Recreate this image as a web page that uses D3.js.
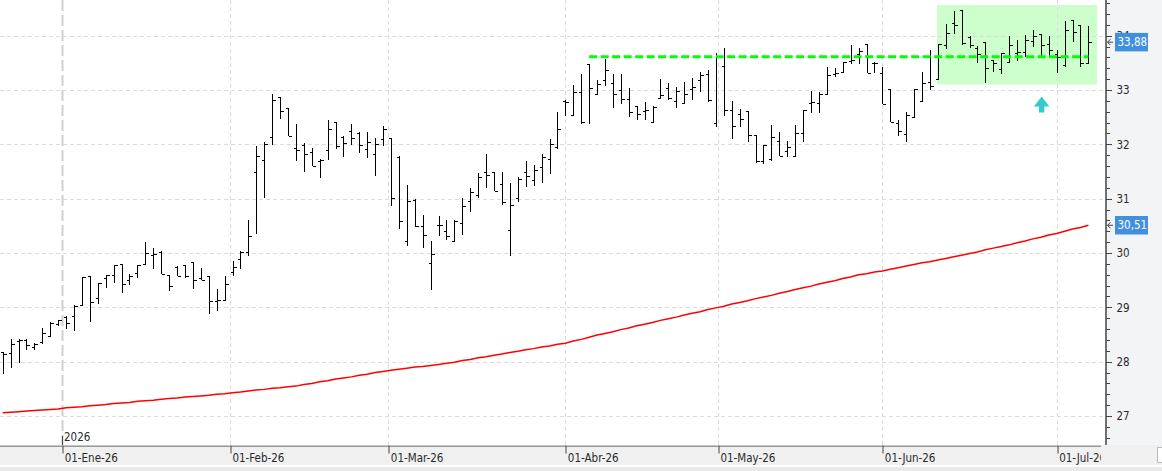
<!DOCTYPE html>
<html>
<head>
<meta charset="utf-8">
<script src="https://cdn.jsdelivr.net/npm/d3@7"></script>
<style>
  body { margin: 0; background: #fff; }
  svg { display: block; }
  text { font-family: 'Liberation Sans Narrow', 'DejaVu Sans Condensed', sans-serif; }
</style>
</head>
<body>
<div id="chart"></div>
<script>
// daily OHLC, one entry per trading day starting 18-Dic-25
const openPrices = [
  28.18, 28.16, 28.38, 28.40, 28.27, 28.36, 28.47, 28.70, 28.82, 28.84,
  29.04, 29.57, 29.17, 29.54, 29.59, 29.80, 29.50, 29.63, 29.80, 29.97,
  30.02, 29.60, 29.75, 29.77, 29.83, 29.54, 29.57, 29.12, 29.14, 29.65,
  29.89, 30.02, 31.50, 31.71, 32.14, 32.88, 32.66, 31.94, 31.98, 31.85,
  31.69, 31.90, 32.42, 32.14, 32.24, 32.20, 31.91, 31.83, 32.09, 32.11,
  31.77, 30.22, 30.98, 30.50, 29.81, 30.52, 30.41, 30.23, 30.55, 30.95,
  31.07, 31.50, 31.50, 31.27, 30.43, 31.01, 31.50, 31.34, 31.59, 31.73,
  31.95, 32.79, 32.54, 32.96, 33.48, 32.92, 33.19, 33.12, 33.00, 32.84,
  32.70, 32.62, 32.42, 32.85, 33.03, 32.79, 32.76, 33.01, 33.19, 33.30,
  32.40, 33.45, 32.63, 32.55, 32.61, 32.17, 31.70, 31.73, 32.07, 31.87,
  31.78, 32.20, 32.76, 32.76, 32.93, 33.30, 33.34, 33.54, 33.67, 33.84,
  33.50, 33.31, 33.01, 32.39, 32.19, 32.50, 32.79, 33.15, 33.20, 33.83,
  34.24, 34.47, 33.98, 33.78, 33.89, 33.56, 33.38, 33.51, 33.69, 33.70,
  33.91, 34.03, 33.84, 33.67, 33.46, 34.28, 34.19, 33.50
]
const highPrices = [
  28.18, 28.42, 28.41, 28.41, 28.35, 28.62, 28.73, 28.77, 28.84, 29.04,
  29.56, 29.57, 29.45, 29.60, 29.77, 29.80, 29.61, 29.78, 30.20, 30.09,
  30.03, 29.60, 29.76, 29.78, 29.83, 29.73, 29.57, 29.34, 29.57, 29.86,
  30.03, 30.60, 31.97, 32.05, 32.92, 32.88, 32.66, 32.38, 32.02, 31.93,
  31.73, 32.44, 32.42, 32.16, 32.38, 32.22, 32.22, 32.11, 32.34, 32.11,
  31.79, 31.26, 31.00, 30.70, 30.23, 30.68, 30.60, 30.60, 31.02, 31.19,
  31.48, 31.82, 31.50, 31.50, 31.29, 31.39, 31.69, 31.62, 31.82, 32.09,
  32.60, 32.82, 33.09, 33.29, 33.48, 33.19, 33.57, 33.30, 33.30, 33.03,
  32.71, 32.77, 32.70, 33.21, 33.12, 33.06, 33.14, 33.23, 33.34, 33.36,
  33.69, 33.77, 32.80, 32.65, 32.61, 32.17, 31.99, 32.35, 32.22, 32.07,
  32.35, 32.63, 32.98, 32.97, 33.43, 33.40, 33.52, 33.83, 33.78, 33.84,
  33.52, 33.43, 33.01, 32.45, 32.60, 33.01, 33.34, 33.73, 33.84, 34.22,
  34.45, 34.47, 33.99, 33.81, 33.89, 33.56, 33.69, 33.99, 33.92, 34.01,
  34.10, 34.03, 33.99, 33.73, 34.27, 34.28, 34.20, 34.17
]
const lowPrices = [
  27.78, 27.89, 27.98, 28.21, 28.21, 28.32, 28.47, 28.65, 28.60, 28.56,
  29.04, 28.73, 29.07, 29.35, 29.45, 29.26, 29.42, 29.54, 29.80, 29.70,
  29.62, 29.30, 29.57, 29.54, 29.33, 29.50, 28.88, 28.94, 29.11, 29.57,
  29.71, 29.95, 30.35, 31.01, 31.99, 32.47, 32.16, 31.70, 31.50, 31.61,
  31.38, 31.71, 31.91, 31.77, 31.99, 31.84, 31.75, 31.42, 31.97, 30.87,
  30.44, 30.12, 30.47, 30.09, 29.31, 30.32, 30.24, 30.20, 30.34, 30.76,
  31.01, 31.20, 31.15, 30.89, 29.95, 30.93, 31.21, 31.24, 31.28, 31.46,
  31.91, 32.52, 32.53, 32.38, 32.38, 32.92, 33.08, 32.66, 32.74, 32.50,
  32.45, 32.45, 32.40, 32.84, 32.81, 32.66, 32.76, 32.81, 32.97, 32.78,
  32.31, 32.52, 32.10, 32.32, 32.04, 31.66, 31.63, 31.70, 31.78, 31.77,
  31.77, 32.04, 32.57, 32.58, 32.93, 33.24, 33.31, 33.47, 33.47, 33.31,
  33.31, 32.74, 32.42, 32.16, 32.05, 32.50, 32.77, 33.00, 33.20, 33.76,
  34.03, 33.83, 33.78, 33.49, 33.13, 33.34, 33.29, 33.51, 33.54, 33.61,
  33.80, 33.61, 33.61, 33.31, 33.43, 33.89, 33.43, 33.49
]
const closePrices = [
  28.15, 28.33, 28.39, 28.30, 28.33, 28.52, 28.72, 28.76, 28.72, 29.02,
  29.56, 29.10, 29.45, 29.60, 29.77, 29.43, 29.57, 29.77, 30.00, 29.98,
  29.62, 29.39, 29.57, 29.57, 29.50, 29.51, 29.12, 29.13, 29.43, 29.75,
  30.02, 30.32, 31.79, 32.00, 32.81, 32.61, 32.16, 31.90, 31.83, 31.61,
  31.72, 32.29, 31.97, 32.03, 32.11, 31.99, 32.05, 32.00, 32.28, 31.01,
  30.58, 30.96, 30.49, 30.33, 29.98, 30.52, 30.32, 30.58, 30.87, 31.13,
  31.39, 31.43, 31.15, 30.93, 30.88, 31.36, 31.42, 31.53, 31.77, 32.00,
  32.28, 32.77, 32.96, 32.42, 33.03, 33.11, 33.36, 32.93, 32.84, 32.60,
  32.56, 32.63, 32.69, 32.91, 32.85, 32.98, 32.92, 33.05, 33.27, 32.81,
  33.60, 32.63, 32.34, 32.46, 32.17, 31.70, 31.98, 32.13, 31.78, 31.96,
  32.20, 32.63, 32.77, 32.93, 33.27, 33.31, 33.52, 33.56, 33.72, 33.31,
  33.50, 32.74, 32.42, 32.25, 32.54, 33.01, 33.13, 33.07, 33.84, 34.04,
  34.19, 33.86, 33.83, 33.67, 33.40, 33.50, 33.69, 33.83, 33.70, 33.92,
  33.99, 33.83, 33.73, 33.61, 34.10, 34.06, 33.49, 33.88
]
// red moving average, one value per bar
const movingAvg = [
  27.06, 27.07, 27.08, 27.09, 27.10, 27.11, 27.12, 27.13, 27.15, 27.16,
  27.17, 27.19, 27.20, 27.21, 27.23, 27.24, 27.25, 27.27, 27.28, 27.29,
  27.31, 27.32, 27.33, 27.35, 27.36, 27.37, 27.38, 27.40, 27.41, 27.43,
  27.44, 27.46, 27.48, 27.49, 27.51, 27.52, 27.54, 27.55, 27.58, 27.60,
  27.63, 27.65, 27.68, 27.70, 27.72, 27.75, 27.77, 27.80, 27.82, 27.84,
  27.86, 27.88, 27.90, 27.91, 27.93, 27.95, 27.97, 27.99, 28.02, 28.04,
  28.07, 28.09, 28.12, 28.14, 28.17, 28.19, 28.22, 28.24, 28.27, 28.29,
  28.32, 28.34, 28.38, 28.41, 28.45, 28.49, 28.52, 28.55, 28.59, 28.62,
  28.66, 28.69, 28.72, 28.76, 28.79, 28.82, 28.86, 28.89, 28.92, 28.96,
  28.99, 29.02, 29.06, 29.09, 29.12, 29.16, 29.19, 29.22, 29.26, 29.29,
  29.33, 29.36, 29.39, 29.43, 29.46, 29.49, 29.53, 29.56, 29.60, 29.62,
  29.65, 29.67, 29.70, 29.73, 29.76, 29.79, 29.82, 29.84, 29.87, 29.90,
  29.93, 29.96, 29.99, 30.02, 30.06, 30.09, 30.12, 30.15, 30.19, 30.22,
  30.26, 30.29, 30.33, 30.36, 30.40, 30.44, 30.47, 30.51
]
const marketHolidays = ['2025-12-25', '2025-12-26', '2026-01-01', '2026-04-03', '2026-04-06', '2026-05-01']
const monthNames = ['Ene', 'Feb', 'Mar', 'Abr', 'May', 'Jun', 'Jul', 'Ago', 'Sep', 'Oct', 'Nov', 'Dic']
const priceTicks = [27, 28, 29, 30, 31, 32, 33, 34]
const resistance = { level: 33.61, from: 74, to: 137 }
const rangeBox = { from: 117.9, to: 138.1, top: 34.565, bottom: 33.1 }
const arrowAt = { index: 131.1, value: 32.88 }

const width = 1162
const height = 471
const plotRight = 1105
const plotBottom = 445
const fontSize = 11.5

// trading days (weekdays without market holidays)
const fmtKey = d3.timeFormat('%Y-%m-%d')
const dates = []
for (let d = new Date(2025, 11, 18); dates.length < closePrices.length; d.setDate(d.getDate() + 1)) {
  if (d.getDay() > 0 && d.getDay() < 6 && !marketHolidays.includes(fmtKey(d))) dates.push(new Date(d))
}

const xScale = d3.scaleLinear().domain([0, 137]).range([2.7, 1088.4])
const yScale = d3.scaleLinear().domain([27, 33]).range([416, 90])

// month starts as fractional bar positions
const monthStarts = d3.timeMonth.range(new Date(2026, 0, 1), new Date(2026, 6, 2))
const monthPos = monthStarts.map(function(m) {
  let i = d3.bisectRight(dates, m) - 1
  if (+dates[i] === +m) return i
  return i + (m - dates[i]) / (dates[i + 1] - dates[i])
})
const monthLabel = {}
monthStarts.forEach(function(m, k) {
  monthLabel[monthPos[k]] = d3.timeFormat('%d')(m) + '-' + monthNames[m.getMonth()] + '-' + d3.timeFormat('%y')(m)
})

const svg = d3
  .select('#chart')
  .append('svg')
  .attr('width', width)
  .attr('height', height)

svg.append('rect').attr('width', width).attr('height', height).attr('fill', '#fff')

// green consolidation box
svg
  .append('rect')
  .attr('x', xScale(rangeBox.from))
  .attr('y', yScale(rangeBox.top))
  .attr('width', xScale(rangeBox.to) - xScale(rangeBox.from))
  .attr('height', yScale(rangeBox.bottom) - yScale(rangeBox.top))
  .attr('fill', '#ccffcc')

// grid
svg
  .append('g')
  .selectAll('line')
  .data(priceTicks)
  .enter()
  .append('line')
  .attr('x1', 0)
  .attr('x2', plotRight)
  .attr('y1', d => Math.round(yScale(d)) + 0.5)
  .attr('y2', d => Math.round(yScale(d)) + 0.5)
  .attr('stroke', '#dcdcdc')
  .attr('stroke-dasharray', '4,3')

svg
  .append('g')
  .selectAll('line')
  .data(monthPos)
  .enter()
  .append('line')
  .attr('x1', d => Math.round(xScale(d)) + 0.5)
  .attr('x2', d => Math.round(xScale(d)) + 0.5)
  .attr('y1', 0)
  .attr('y2', plotBottom)
  .attr('stroke', (d, i) => i === 0 ? '#d0d0d0' : '#dcdcdc')
  .attr('stroke-width', (d, i) => i === 0 ? 2 : 1)
  .attr('stroke-dasharray', (d, i) => i === 0 ? '11,4' : '4,3')

// moving average
const maLine = d3
  .line()
  .x((d, i) => xScale(i))
  .y(d => yScale(d))

svg
  .append('path')
  .datum(movingAvg)
  .attr('d', maLine)
  .attr('fill', 'none')
  .attr('stroke', '#ff0000')
  .attr('stroke-width', 1.5)

// OHLC bars
const bars = svg
  .append('g')
  .attr('stroke', '#000')
  .attr('stroke-width', 1)
  .attr('shape-rendering', 'crispEdges')
  .selectAll('g')
  .data(closePrices)
  .enter()
  .append('g')

bars
  .append('line')
  .attr('x1', (d, i) => Math.round(xScale(i)) + 0.5)
  .attr('x2', (d, i) => Math.round(xScale(i)) + 0.5)
  .attr('y1', (d, i) => yScale(highPrices[i]))
  .attr('y2', (d, i) => yScale(lowPrices[i]))

bars
  .append('line')
  .attr('x1', (d, i) => Math.round(xScale(i)) - 2.5)
  .attr('x2', (d, i) => Math.round(xScale(i)) + 0.5)
  .attr('y1', (d, i) => Math.round(yScale(openPrices[i])) + 0.5)
  .attr('y2', (d, i) => Math.round(yScale(openPrices[i])) + 0.5)

bars
  .append('line')
  .attr('x1', (d, i) => Math.round(xScale(i)) + 0.5)
  .attr('x2', (d, i) => Math.round(xScale(i)) + 3.5)
  .attr('y1', d => Math.round(yScale(d)) + 0.5)
  .attr('y2', d => Math.round(yScale(d)) + 0.5)

// resistance line
svg
  .append('line')
  .attr('x1', xScale(resistance.from))
  .attr('x2', xScale(resistance.to))
  .attr('y1', yScale(resistance.level))
  .attr('y2', yScale(resistance.level))
  .attr('stroke', '#00ff00')
  .attr('stroke-width', 3)
  .attr('stroke-dasharray', '8,3.5')

// cyan arrow
svg
  .append('path')
  .attr('transform', 'translate(' + xScale(arrowAt.index) + ',' + yScale(arrowAt.value) + ')')
  .attr('d', 'M0,0 L7.7,10 L2.7,10 L2.7,16 L-2.7,16 L-2.7,10 L-7.7,10 Z')
  .attr('fill', '#33cccc')

// right price panel
svg
  .append('rect')
  .attr('x', plotRight + 1)
  .attr('y', 0)
  .attr('width', width - plotRight - 1)
  .attr('height', plotBottom)
  .attr('fill', '#f3f4f6')

const minorTicks = d3.range(133, 174).map(d => d / 5)
svg
  .append('g')
  .attr('class', 'axis minor-axis')
  .attr('transform', 'translate(' + (plotRight + 0.5) + ',0)')
  .call(d3.axisRight(yScale).tickValues(minorTicks).tickSize(4).tickFormat(''))

const yAxis = d3
  .axisRight(yScale)
  .tickValues(priceTicks)
  .tickSize(6)
  .tickPadding(5)
  .tickFormat(d => d)

svg
  .append('g')
  .attr('class', 'axis y-axis')
  .attr('transform', 'translate(' + (plotRight + 0.5) + ',0)')
  .call(yAxis)

svg.selectAll('.axis line').attr('stroke', '#444').attr('shape-rendering', 'crispEdges')
svg.selectAll('.axis path').attr('stroke', '#444').attr('d', 'M0.5,0V' + plotBottom)
svg.selectAll('.y-axis text').attr('font-size', fontSize).attr('fill', '#2b2b2b')

// last value labels
const lastLabels = [
  { value: closePrices[closePrices.length - 1] },
  { value: movingAvg[movingAvg.length - 1] }
]
const labelGroup = svg
  .append('g')
  .selectAll('g')
  .data(lastLabels)
  .enter()
  .append('g')
  .attr('transform', d => 'translate(0,' + yScale(d.value) + ')')

labelGroup
  .append('path')
  .attr('d', 'M1113,0 H1107.5 M1110.5,-3 L1107.5,0 L1110.5,3')
  .attr('fill', 'none')
  .attr('stroke', '#444')

labelGroup
  .append('rect')
  .attr('x', 1115)
  .attr('y', -9.3)
  .attr('width', 33)
  .attr('height', 18.5)
  .attr('fill', '#4190df')

labelGroup
  .append('text')
  .attr('x', 1117.5)
  .attr('y', 0)
  .attr('dy', '0.36em')
  .attr('font-size', fontSize)
  .attr('fill', '#fff')
  .text(d => d3.format('.2f')(d.value).replace('.', ','))

// bottom date band
svg.append('rect').attr('x', 0).attr('y', plotBottom).attr('width', width).attr('height', 20).attr('fill', '#f0f0f0')
svg.append('rect').attr('x', 0).attr('y', 467).attr('width', width).attr('height', 4).attr('fill', '#e9e9e9')
svg
  .append('rect')
  .attr('x', 1157.5)
  .attr('y', 447.5)
  .attr('width', 6)
  .attr('height', 15)
  .attr('fill', '#fff')
  .attr('stroke', '#bbb')

svg
  .append('clipPath')
  .attr('id', 'date-clip')
  .append('rect')
  .attr('width', 1101)
  .attr('height', height)

const xAxis = d3
  .axisBottom(xScale)
  .tickValues(monthPos)
  .tickSize(8)
  .tickFormat(d => monthLabel[d])

const xAxisG = svg
  .append('g')
  .attr('class', 'axis x-axis')
  .attr('clip-path', 'url(#date-clip)')
  .attr('transform', 'translate(0,' + (plotBottom + 0.5) + ')')
  .call(xAxis)

xAxisG.selectAll('line').attr('stroke', '#444').attr('transform', d => 'translate(' + (Math.round(xScale(d)) + 0.5 - xScale(d)) + ',0)')
xAxisG.select('path').attr('stroke', '#444').attr('d', 'M0,0.5H' + plotRight)
xAxisG
  .selectAll('text')
  .attr('text-anchor', 'start')
  .attr('x', 2)
  .attr('y', 16.8)
  .attr('dy', 0)
  .attr('font-size', fontSize)
  .attr('fill', '#2b2b2b')

// year marker at january
const yearX = Math.round(xScale(monthPos[0])) + 0.5
svg
  .append('line')
  .attr('x1', yearX)
  .attr('x2', yearX)
  .attr('y1', plotBottom - 9)
  .attr('y2', plotBottom)
  .attr('stroke', '#444')
svg
  .append('text')
  .attr('x', yearX + 1.5)
  .attr('y', plotBottom - 4.3)
  .attr('font-size', fontSize)
  .attr('fill', '#2b2b2b')
  .text(dates[8].getFullYear())
</script>
</body>
</html>
